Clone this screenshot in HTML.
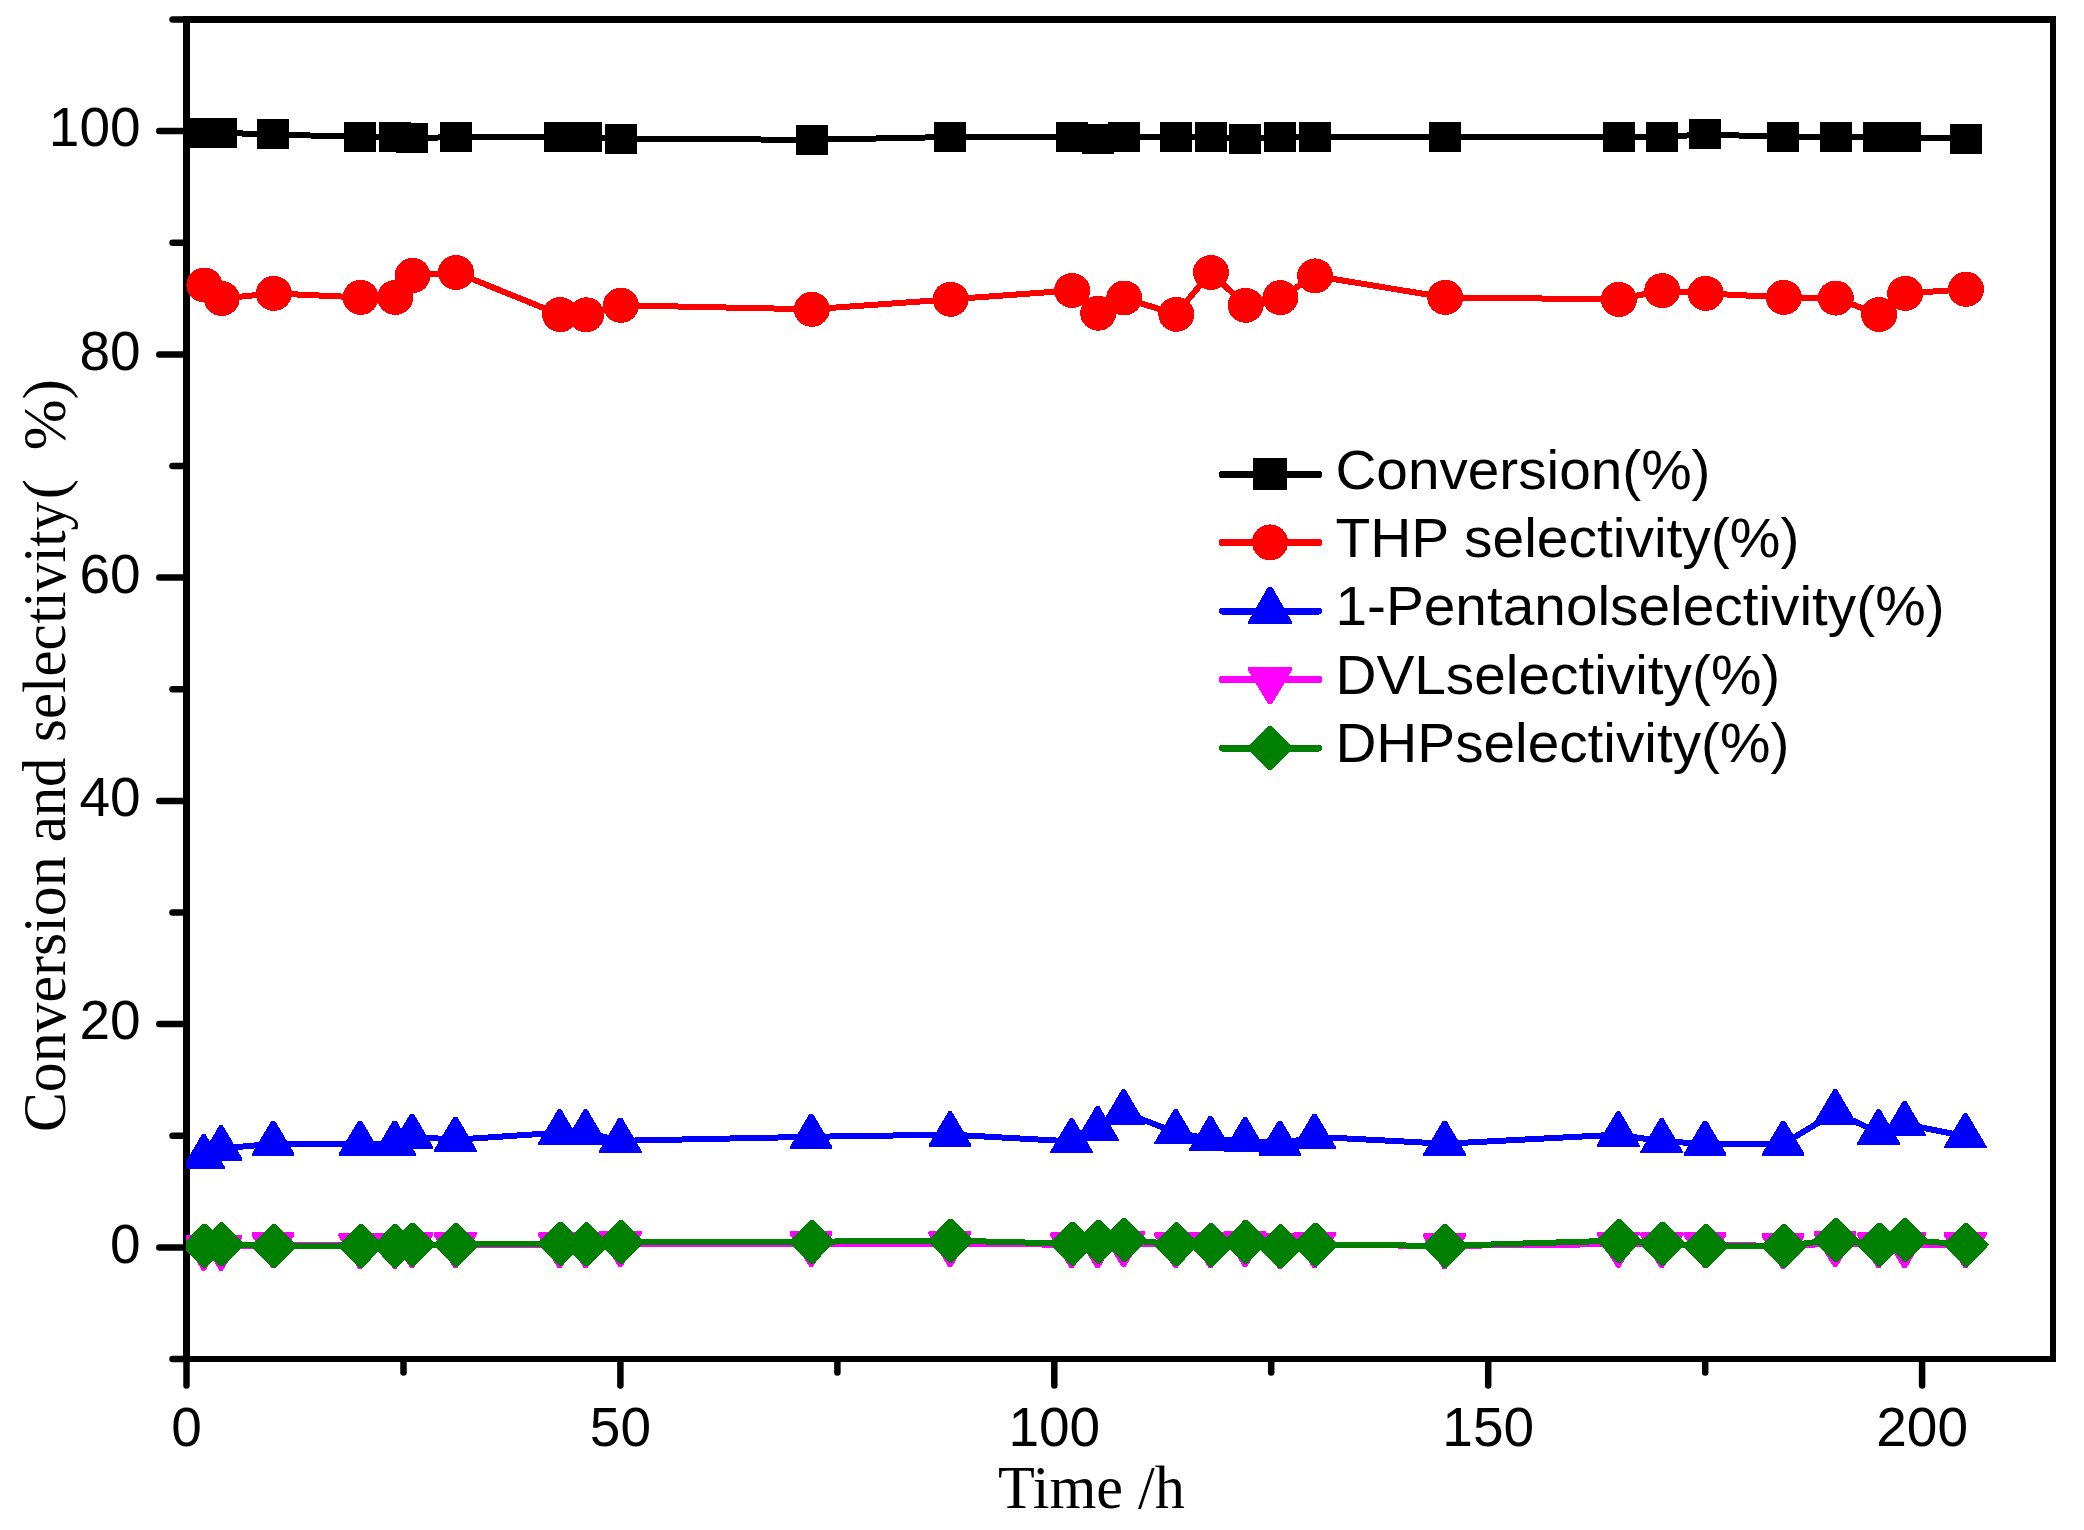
<!DOCTYPE html>
<html lang="en"><head><meta charset="utf-8"><title>Conversion and selectivity vs time</title>
<style>html,body{margin:0;padding:0;background:#fff}body{width:2084px;height:1530px;overflow:hidden}svg{display:block}.t{font-family:"Liberation Sans",Arial,sans-serif;font-size:55px;fill:#000}.s{font-family:"Liberation Serif","Times New Roman",serif;font-size:61px;fill:#000}</style></head><body>
<svg width="2084" height="1530" viewBox="0 0 2084 1530">
<rect x="0" y="0" width="2084" height="1530" fill="#fff"/>
<defs><clipPath id="cp"><rect x="186" y="23" width="1864" height="1333"/></clipPath></defs>
<g id="axes" fill="#000" shape-rendering="crispEdges">
<rect x="183" y="16" width="7" height="1346"/>
<rect x="183" y="16" width="1873" height="7"/>
<rect x="2050" y="16" width="6" height="1346"/>
<rect x="183" y="1356" width="1873" height="6"/>
</g>
<g id="ticks" stroke="#000" stroke-width="6.5" stroke-linecap="round" fill="none">
<line x1="172.5" y1="1359.0" x2="186" y2="1359.0"/>
<line x1="159.3" y1="1247.4" x2="186" y2="1247.4"/>
<line x1="172.5" y1="1135.8" x2="186" y2="1135.8"/>
<line x1="159.3" y1="1024.1" x2="186" y2="1024.1"/>
<line x1="172.5" y1="912.5" x2="186" y2="912.5"/>
<line x1="159.3" y1="800.9" x2="186" y2="800.9"/>
<line x1="172.5" y1="689.2" x2="186" y2="689.2"/>
<line x1="159.3" y1="577.6" x2="186" y2="577.6"/>
<line x1="172.5" y1="466.0" x2="186" y2="466.0"/>
<line x1="159.3" y1="354.4" x2="186" y2="354.4"/>
<line x1="172.5" y1="242.8" x2="186" y2="242.8"/>
<line x1="159.3" y1="131.1" x2="186" y2="131.1"/>
<line x1="172.5" y1="19.5" x2="186" y2="19.5"/>
<line x1="186.5" y1="1360" x2="186.5" y2="1385.5"/>
<line x1="403.5" y1="1360" x2="403.5" y2="1372.4"/>
<line x1="620.4" y1="1360" x2="620.4" y2="1385.5"/>
<line x1="837.4" y1="1360" x2="837.4" y2="1372.4"/>
<line x1="1054.3" y1="1360" x2="1054.3" y2="1385.5"/>
<line x1="1271.2" y1="1360" x2="1271.2" y2="1372.4"/>
<line x1="1488.2" y1="1360" x2="1488.2" y2="1385.5"/>
<line x1="1705.2" y1="1360" x2="1705.2" y2="1372.4"/>
<line x1="1922.1" y1="1360" x2="1922.1" y2="1385.5"/>
</g>
<g id="ticklabels" class="t">
<text x="140.6" y="1262.6" text-anchor="end">0</text>
<text x="140.6" y="1039.3" text-anchor="end">20</text>
<text x="140.6" y="816.1" text-anchor="end">40</text>
<text x="140.6" y="592.8" text-anchor="end">60</text>
<text x="140.6" y="369.6" text-anchor="end">80</text>
<text x="140.6" y="146.3" text-anchor="end">100</text>
<text x="186.5" y="1445.6" text-anchor="middle">0</text>
<text x="620.4" y="1445.6" text-anchor="middle">50</text>
<text x="1054.3" y="1445.6" text-anchor="middle">100</text>
<text x="1488.2" y="1445.6" text-anchor="middle">150</text>
<text x="1922.1" y="1445.6" text-anchor="middle">200</text>
</g>
<text class="s" x="998" y="1507.8" textLength="187" lengthAdjust="spacingAndGlyphs">Time /h</text>
<g transform="translate(65,1132) rotate(-90)">
<text class="s" y="0" xml:space="preserve"><tspan x="0" textLength="275.6" lengthAdjust="spacingAndGlyphs">Conversion</tspan><tspan> </tspan><tspan x="289.7" textLength="84.8" lengthAdjust="spacingAndGlyphs">and</tspan><tspan> </tspan><tspan x="390.1" textLength="117.6" lengthAdjust="spacingAndGlyphs">selec</tspan><tspan x="508.5" textLength="121.8" lengthAdjust="spacingAndGlyphs">tivity</tspan></text>
<text class="s" x="632.8" y="0">(</text>
<text class="s" x="681.7" y="0">%</text>
<text class="s" x="732.6" y="0">)</text>
</g>
<g id="data" clip-path="url(#cp)" shape-rendering="crispEdges">
<polyline points="204.1,132.9 221.4,132.9 273.5,134.4 360.3,137.0 395.0,137.0 412.3,137.8 455.7,137.3 559.9,137.3 585.9,137.0 620.6,138.7 811.5,139.8 950.4,137.0 1071.9,137.0 1097.9,138.7 1123.9,137.5 1176.0,137.0 1210.7,137.3 1245.4,139.0 1280.1,137.0 1314.8,137.3 1445.0,137.0 1618.6,137.0 1662.0,137.0 1705.4,134.4 1783.5,137.0 1835.5,137.5 1878.9,137.0 1904.9,137.5 1965.7,138.7" fill="none" stroke="#000" stroke-width="6" stroke-linejoin="round"/>
<g fill="#000" shape-rendering="crispEdges">
<rect x="188" y="118" width="32" height="30"/>
<rect x="205" y="118" width="32" height="30"/>
<rect x="257" y="119" width="32" height="30"/>
<rect x="344" y="122" width="32" height="30"/>
<rect x="379" y="122" width="32" height="30"/>
<rect x="396" y="123" width="32" height="30"/>
<rect x="440" y="122" width="32" height="30"/>
<rect x="544" y="122" width="32" height="30"/>
<rect x="570" y="122" width="32" height="30"/>
<rect x="605" y="124" width="32" height="30"/>
<rect x="796" y="125" width="32" height="30"/>
<rect x="934" y="122" width="32" height="30"/>
<rect x="1056" y="122" width="32" height="30"/>
<rect x="1082" y="124" width="32" height="30"/>
<rect x="1108" y="122" width="32" height="30"/>
<rect x="1160" y="122" width="32" height="30"/>
<rect x="1195" y="122" width="32" height="30"/>
<rect x="1229" y="124" width="32" height="30"/>
<rect x="1264" y="122" width="32" height="30"/>
<rect x="1299" y="122" width="32" height="30"/>
<rect x="1429" y="122" width="32" height="30"/>
<rect x="1603" y="122" width="32" height="30"/>
<rect x="1646" y="122" width="32" height="30"/>
<rect x="1689" y="119" width="32" height="30"/>
<rect x="1767" y="122" width="32" height="30"/>
<rect x="1820" y="122" width="32" height="30"/>
<rect x="1863" y="122" width="32" height="30"/>
<rect x="1889" y="122" width="32" height="30"/>
<rect x="1950" y="124" width="32" height="30"/>
</g>
<polyline points="204.1,285.0 221.4,298.5 273.5,293.4 360.3,297.4 395.0,297.4 412.3,275.5 455.7,272.4 559.9,314.6 585.9,314.8 620.6,305.3 811.5,309.3 950.4,299.3 1071.9,290.5 1097.9,313.2 1123.9,298.0 1176.0,314.3 1210.7,272.4 1245.4,305.3 1280.1,297.6 1314.8,275.9 1445.0,297.4 1618.6,299.4 1662.0,290.6 1705.4,293.4 1783.5,297.4 1835.5,298.1 1878.9,314.5 1904.9,293.4 1965.7,289.3" fill="none" stroke="#f00" stroke-width="6" stroke-linejoin="round"/>
<g fill="#f00">
<ellipse cx="204.4" cy="285.0" rx="18" ry="17.5"/>
<ellipse cx="221.7" cy="298.5" rx="18" ry="17.5"/>
<ellipse cx="273.8" cy="293.4" rx="18" ry="17.5"/>
<ellipse cx="360.6" cy="297.4" rx="18" ry="17.5"/>
<ellipse cx="395.3" cy="297.4" rx="18" ry="17.5"/>
<ellipse cx="412.6" cy="275.5" rx="18" ry="17.5"/>
<ellipse cx="456.0" cy="272.4" rx="18" ry="17.5"/>
<ellipse cx="560.2" cy="314.6" rx="18" ry="17.5"/>
<ellipse cx="586.2" cy="314.8" rx="18" ry="17.5"/>
<ellipse cx="620.9" cy="305.3" rx="18" ry="17.5"/>
<ellipse cx="811.8" cy="309.3" rx="18" ry="17.5"/>
<ellipse cx="950.7" cy="299.3" rx="18" ry="17.5"/>
<ellipse cx="1072.2" cy="290.5" rx="18" ry="17.5"/>
<ellipse cx="1098.2" cy="313.2" rx="18" ry="17.5"/>
<ellipse cx="1124.2" cy="298.0" rx="18" ry="17.5"/>
<ellipse cx="1176.3" cy="314.3" rx="18" ry="17.5"/>
<ellipse cx="1211.0" cy="272.4" rx="18" ry="17.5"/>
<ellipse cx="1245.7" cy="305.3" rx="18" ry="17.5"/>
<ellipse cx="1280.4" cy="297.6" rx="18" ry="17.5"/>
<ellipse cx="1315.1" cy="275.9" rx="18" ry="17.5"/>
<ellipse cx="1445.3" cy="297.4" rx="18" ry="17.5"/>
<ellipse cx="1618.9" cy="299.4" rx="18" ry="17.5"/>
<ellipse cx="1662.3" cy="290.6" rx="18" ry="17.5"/>
<ellipse cx="1705.7" cy="293.4" rx="18" ry="17.5"/>
<ellipse cx="1783.8" cy="297.4" rx="18" ry="17.5"/>
<ellipse cx="1835.8" cy="298.1" rx="18" ry="17.5"/>
<ellipse cx="1879.2" cy="314.5" rx="18" ry="17.5"/>
<ellipse cx="1905.2" cy="293.4" rx="18" ry="17.5"/>
<ellipse cx="1966.0" cy="289.3" rx="18" ry="17.5"/>
</g>
<polyline points="204.1,1157.3 221.4,1148.5 273.5,1143.7 360.3,1143.7 395.0,1143.7 412.3,1136.8 455.7,1139.7 559.9,1132.6 585.9,1132.6 620.6,1140.8 811.5,1136.8 950.4,1134.6 1071.9,1141.4 1097.9,1129.3 1123.9,1112.5 1176.0,1132.4 1210.7,1139.2 1245.4,1140.3 1280.1,1143.7 1314.8,1136.8 1445.0,1143.7 1618.6,1134.6 1662.0,1141.4 1705.4,1143.7 1783.5,1143.7 1835.5,1112.5 1878.9,1132.6 1904.9,1124.2 1965.7,1136.4" fill="none" stroke="#00f" stroke-width="6" stroke-linejoin="round"/>
<g fill="#00f">
<polygon points="202.1,1134.1 205.5,1134.1 225.0,1167.3 225.0,1169.3 182.5,1169.3 182.5,1167.3"/>
<polygon points="219.4,1125.3 222.8,1125.3 242.3,1158.5 242.3,1160.5 199.8,1160.5 199.8,1158.5"/>
<polygon points="271.5,1120.5 274.9,1120.5 294.4,1153.7 294.4,1155.7 251.9,1155.7 251.9,1153.7"/>
<polygon points="358.3,1120.5 361.7,1120.5 381.2,1153.7 381.2,1155.7 338.7,1155.7 338.7,1153.7"/>
<polygon points="393.0,1120.5 396.4,1120.5 415.9,1153.7 415.9,1155.7 373.4,1155.7 373.4,1153.7"/>
<polygon points="410.3,1113.6 413.7,1113.6 433.2,1146.8 433.2,1148.8 390.7,1148.8 390.7,1146.8"/>
<polygon points="453.7,1116.5 457.1,1116.5 476.6,1149.7 476.6,1151.7 434.1,1151.7 434.1,1149.7"/>
<polygon points="557.9,1109.4 561.3,1109.4 580.8,1142.6 580.8,1144.6 538.3,1144.6 538.3,1142.6"/>
<polygon points="583.9,1109.4 587.3,1109.4 606.8,1142.6 606.8,1144.6 564.3,1144.6 564.3,1142.6"/>
<polygon points="618.6,1117.6 622.0,1117.6 641.5,1150.8 641.5,1152.8 599.0,1152.8 599.0,1150.8"/>
<polygon points="809.5,1113.6 812.9,1113.6 832.4,1146.8 832.4,1148.8 789.9,1148.8 789.9,1146.8"/>
<polygon points="948.4,1111.4 951.8,1111.4 971.3,1144.6 971.3,1146.6 928.8,1146.6 928.8,1144.6"/>
<polygon points="1069.9,1118.2 1073.3,1118.2 1092.8,1151.4 1092.8,1153.4 1050.3,1153.4 1050.3,1151.4"/>
<polygon points="1095.9,1106.1 1099.3,1106.1 1118.8,1139.3 1118.8,1141.3 1076.3,1141.3 1076.3,1139.3"/>
<polygon points="1121.9,1089.3 1125.3,1089.3 1144.8,1122.5 1144.8,1124.5 1102.3,1124.5 1102.3,1122.5"/>
<polygon points="1174.0,1109.2 1177.4,1109.2 1196.9,1142.4 1196.9,1144.4 1154.4,1144.4 1154.4,1142.4"/>
<polygon points="1208.7,1116.0 1212.1,1116.0 1231.6,1149.2 1231.6,1151.2 1189.1,1151.2 1189.1,1149.2"/>
<polygon points="1243.4,1117.1 1246.8,1117.1 1266.3,1150.3 1266.3,1152.3 1223.8,1152.3 1223.8,1150.3"/>
<polygon points="1278.1,1120.5 1281.5,1120.5 1301.0,1153.7 1301.0,1155.7 1258.5,1155.7 1258.5,1153.7"/>
<polygon points="1312.8,1113.6 1316.2,1113.6 1335.7,1146.8 1335.7,1148.8 1293.2,1148.8 1293.2,1146.8"/>
<polygon points="1443.0,1120.5 1446.4,1120.5 1465.9,1153.7 1465.9,1155.7 1423.4,1155.7 1423.4,1153.7"/>
<polygon points="1616.6,1111.4 1620.0,1111.4 1639.5,1144.6 1639.5,1146.6 1597.0,1146.6 1597.0,1144.6"/>
<polygon points="1660.0,1118.2 1663.4,1118.2 1682.9,1151.4 1682.9,1153.4 1640.4,1153.4 1640.4,1151.4"/>
<polygon points="1703.4,1120.5 1706.8,1120.5 1726.3,1153.7 1726.3,1155.7 1683.8,1155.7 1683.8,1153.7"/>
<polygon points="1781.5,1120.5 1784.9,1120.5 1804.4,1153.7 1804.4,1155.7 1761.9,1155.7 1761.9,1153.7"/>
<polygon points="1833.5,1089.3 1836.9,1089.3 1856.4,1122.5 1856.4,1124.5 1813.9,1124.5 1813.9,1122.5"/>
<polygon points="1876.9,1109.4 1880.3,1109.4 1899.8,1142.6 1899.8,1144.6 1857.3,1144.6 1857.3,1142.6"/>
<polygon points="1902.9,1101.0 1906.3,1101.0 1925.8,1134.2 1925.8,1136.2 1883.3,1136.2 1883.3,1134.2"/>
<polygon points="1963.7,1113.2 1967.1,1113.2 1986.6,1146.4 1986.6,1148.4 1944.1,1148.4 1944.1,1146.4"/>
</g>
<polyline points="204.1,1247.0 221.4,1247.0 273.5,1244.8 360.3,1245.4 395.0,1245.4 412.3,1244.8 455.7,1244.8 559.9,1244.8 585.9,1244.8 620.6,1243.6 811.5,1243.6 950.4,1243.6 1071.9,1244.8 1097.9,1244.8 1123.9,1243.6 1176.0,1244.8 1210.7,1244.8 1245.4,1243.6 1280.1,1245.2 1314.8,1244.8 1445.0,1245.9 1618.6,1244.1 1662.0,1244.8 1705.4,1244.8 1783.5,1245.9 1835.5,1243.6 1878.9,1244.8 1904.9,1244.8 1965.7,1244.8" fill="none" stroke="#f0f" stroke-width="6" stroke-linejoin="round"/>
<g fill="#f0f">
<polygon points="183.1,1234.5 225.0,1234.5 225.0,1237.5 205.5,1270.5 202.1,1270.5 182.1,1237.5 182.1,1235.5"/>
<polygon points="200.4,1234.5 242.3,1234.5 242.3,1237.5 222.8,1270.5 219.4,1270.5 199.4,1237.5 199.4,1235.5"/>
<polygon points="252.5,1232.3 294.4,1232.3 294.4,1235.3 274.9,1268.3 271.5,1268.3 251.5,1235.3 251.5,1233.3"/>
<polygon points="339.3,1232.9 381.2,1232.9 381.2,1235.9 361.7,1268.9 358.3,1268.9 338.3,1235.9 338.3,1233.9"/>
<polygon points="374.0,1232.9 415.9,1232.9 415.9,1235.9 396.4,1268.9 393.0,1268.9 373.0,1235.9 373.0,1233.9"/>
<polygon points="391.3,1232.3 433.2,1232.3 433.2,1235.3 413.7,1268.3 410.3,1268.3 390.3,1235.3 390.3,1233.3"/>
<polygon points="434.7,1232.3 476.6,1232.3 476.6,1235.3 457.1,1268.3 453.7,1268.3 433.7,1235.3 433.7,1233.3"/>
<polygon points="538.9,1232.3 580.8,1232.3 580.8,1235.3 561.3,1268.3 557.9,1268.3 537.9,1235.3 537.9,1233.3"/>
<polygon points="564.9,1232.3 606.8,1232.3 606.8,1235.3 587.3,1268.3 583.9,1268.3 563.9,1235.3 563.9,1233.3"/>
<polygon points="599.6,1231.1 641.5,1231.1 641.5,1234.1 622.0,1267.1 618.6,1267.1 598.6,1234.1 598.6,1232.1"/>
<polygon points="790.5,1231.1 832.4,1231.1 832.4,1234.1 812.9,1267.1 809.5,1267.1 789.5,1234.1 789.5,1232.1"/>
<polygon points="929.4,1231.1 971.3,1231.1 971.3,1234.1 951.8,1267.1 948.4,1267.1 928.4,1234.1 928.4,1232.1"/>
<polygon points="1050.9,1232.3 1092.8,1232.3 1092.8,1235.3 1073.3,1268.3 1069.9,1268.3 1049.9,1235.3 1049.9,1233.3"/>
<polygon points="1076.9,1232.3 1118.8,1232.3 1118.8,1235.3 1099.3,1268.3 1095.9,1268.3 1075.9,1235.3 1075.9,1233.3"/>
<polygon points="1102.9,1231.1 1144.8,1231.1 1144.8,1234.1 1125.3,1267.1 1121.9,1267.1 1101.9,1234.1 1101.9,1232.1"/>
<polygon points="1155.0,1232.3 1196.9,1232.3 1196.9,1235.3 1177.4,1268.3 1174.0,1268.3 1154.0,1235.3 1154.0,1233.3"/>
<polygon points="1189.7,1232.3 1231.6,1232.3 1231.6,1235.3 1212.1,1268.3 1208.7,1268.3 1188.7,1235.3 1188.7,1233.3"/>
<polygon points="1224.4,1231.1 1266.3,1231.1 1266.3,1234.1 1246.8,1267.1 1243.4,1267.1 1223.4,1234.1 1223.4,1232.1"/>
<polygon points="1259.1,1232.7 1301.0,1232.7 1301.0,1235.7 1281.5,1268.7 1278.1,1268.7 1258.1,1235.7 1258.1,1233.7"/>
<polygon points="1293.8,1232.3 1335.7,1232.3 1335.7,1235.3 1316.2,1268.3 1312.8,1268.3 1292.8,1235.3 1292.8,1233.3"/>
<polygon points="1424.0,1233.4 1465.9,1233.4 1465.9,1236.4 1446.4,1269.4 1443.0,1269.4 1423.0,1236.4 1423.0,1234.4"/>
<polygon points="1597.6,1231.6 1639.5,1231.6 1639.5,1234.6 1620.0,1267.6 1616.6,1267.6 1596.6,1234.6 1596.6,1232.6"/>
<polygon points="1641.0,1232.3 1682.9,1232.3 1682.9,1235.3 1663.4,1268.3 1660.0,1268.3 1640.0,1235.3 1640.0,1233.3"/>
<polygon points="1684.4,1232.3 1726.3,1232.3 1726.3,1235.3 1706.8,1268.3 1703.4,1268.3 1683.4,1235.3 1683.4,1233.3"/>
<polygon points="1762.5,1233.4 1804.4,1233.4 1804.4,1236.4 1784.9,1269.4 1781.5,1269.4 1761.5,1236.4 1761.5,1234.4"/>
<polygon points="1814.5,1231.1 1856.4,1231.1 1856.4,1234.1 1836.9,1267.1 1833.5,1267.1 1813.5,1234.1 1813.5,1232.1"/>
<polygon points="1857.9,1232.3 1899.8,1232.3 1899.8,1235.3 1880.3,1268.3 1876.9,1268.3 1856.9,1235.3 1856.9,1233.3"/>
<polygon points="1883.9,1232.3 1925.8,1232.3 1925.8,1235.3 1906.3,1268.3 1902.9,1268.3 1882.9,1235.3 1882.9,1233.3"/>
<polygon points="1944.7,1232.3 1986.6,1232.3 1986.6,1235.3 1967.1,1268.3 1963.7,1268.3 1943.7,1235.3 1943.7,1233.3"/>
</g>
<polyline points="204.1,1245.9 221.4,1244.4 273.5,1245.9 360.3,1245.9 395.0,1246.0 412.3,1244.6 455.7,1244.6 559.9,1243.7 585.9,1244.4 620.6,1241.7 811.5,1241.7 950.4,1240.6 1071.9,1243.7 1097.9,1241.7 1123.9,1239.8 1176.0,1244.2 1210.7,1244.6 1245.4,1241.7 1280.1,1246.3 1314.8,1244.6 1445.0,1245.9 1618.6,1240.6 1662.0,1243.5 1705.4,1245.9 1783.5,1245.9 1835.5,1239.8 1878.9,1244.6 1904.9,1239.8 1965.7,1244.6" fill="none" stroke="#008000" stroke-width="6" stroke-linejoin="round"/>
<g fill="#008000">
<polygon points="203.0,1223.9 206.0,1223.9 227.3,1245.4 227.3,1246.4 206.0,1267.9 203.0,1267.9 181.7,1246.4 181.7,1245.4"/>
<polygon points="220.3,1222.4 223.3,1222.4 244.6,1243.9 244.6,1244.9 223.3,1266.4 220.3,1266.4 199.0,1244.9 199.0,1243.9"/>
<polygon points="272.4,1223.9 275.4,1223.9 296.7,1245.4 296.7,1246.4 275.4,1267.9 272.4,1267.9 251.1,1246.4 251.1,1245.4"/>
<polygon points="359.2,1223.9 362.2,1223.9 383.5,1245.4 383.5,1246.4 362.2,1267.9 359.2,1267.9 337.9,1246.4 337.9,1245.4"/>
<polygon points="393.9,1224.0 396.9,1224.0 418.2,1245.5 418.2,1246.5 396.9,1268.0 393.9,1268.0 372.6,1246.5 372.6,1245.5"/>
<polygon points="411.2,1222.6 414.2,1222.6 435.5,1244.1 435.5,1245.1 414.2,1266.6 411.2,1266.6 389.9,1245.1 389.9,1244.1"/>
<polygon points="454.6,1222.6 457.6,1222.6 478.9,1244.1 478.9,1245.1 457.6,1266.6 454.6,1266.6 433.3,1245.1 433.3,1244.1"/>
<polygon points="558.8,1221.7 561.8,1221.7 583.1,1243.2 583.1,1244.2 561.8,1265.7 558.8,1265.7 537.5,1244.2 537.5,1243.2"/>
<polygon points="584.8,1222.4 587.8,1222.4 609.1,1243.9 609.1,1244.9 587.8,1266.4 584.8,1266.4 563.5,1244.9 563.5,1243.9"/>
<polygon points="619.5,1219.7 622.5,1219.7 643.8,1241.2 643.8,1242.2 622.5,1263.7 619.5,1263.7 598.2,1242.2 598.2,1241.2"/>
<polygon points="810.4,1219.7 813.4,1219.7 834.7,1241.2 834.7,1242.2 813.4,1263.7 810.4,1263.7 789.1,1242.2 789.1,1241.2"/>
<polygon points="949.3,1218.6 952.3,1218.6 973.6,1240.1 973.6,1241.1 952.3,1262.6 949.3,1262.6 928.0,1241.1 928.0,1240.1"/>
<polygon points="1070.8,1221.7 1073.8,1221.7 1095.1,1243.2 1095.1,1244.2 1073.8,1265.7 1070.8,1265.7 1049.5,1244.2 1049.5,1243.2"/>
<polygon points="1096.8,1219.7 1099.8,1219.7 1121.1,1241.2 1121.1,1242.2 1099.8,1263.7 1096.8,1263.7 1075.5,1242.2 1075.5,1241.2"/>
<polygon points="1122.8,1217.8 1125.8,1217.8 1147.1,1239.3 1147.1,1240.3 1125.8,1261.8 1122.8,1261.8 1101.5,1240.3 1101.5,1239.3"/>
<polygon points="1174.9,1222.2 1177.9,1222.2 1199.2,1243.7 1199.2,1244.7 1177.9,1266.2 1174.9,1266.2 1153.6,1244.7 1153.6,1243.7"/>
<polygon points="1209.6,1222.6 1212.6,1222.6 1233.9,1244.1 1233.9,1245.1 1212.6,1266.6 1209.6,1266.6 1188.3,1245.1 1188.3,1244.1"/>
<polygon points="1244.3,1219.7 1247.3,1219.7 1268.6,1241.2 1268.6,1242.2 1247.3,1263.7 1244.3,1263.7 1223.0,1242.2 1223.0,1241.2"/>
<polygon points="1279.0,1224.3 1282.0,1224.3 1303.3,1245.8 1303.3,1246.8 1282.0,1268.3 1279.0,1268.3 1257.7,1246.8 1257.7,1245.8"/>
<polygon points="1313.7,1222.6 1316.7,1222.6 1338.0,1244.1 1338.0,1245.1 1316.7,1266.6 1313.7,1266.6 1292.4,1245.1 1292.4,1244.1"/>
<polygon points="1443.9,1223.9 1446.9,1223.9 1468.2,1245.4 1468.2,1246.4 1446.9,1267.9 1443.9,1267.9 1422.6,1246.4 1422.6,1245.4"/>
<polygon points="1617.5,1218.6 1620.5,1218.6 1641.8,1240.1 1641.8,1241.1 1620.5,1262.6 1617.5,1262.6 1596.2,1241.1 1596.2,1240.1"/>
<polygon points="1660.9,1221.5 1663.9,1221.5 1685.2,1243.0 1685.2,1244.0 1663.9,1265.5 1660.9,1265.5 1639.6,1244.0 1639.6,1243.0"/>
<polygon points="1704.3,1223.9 1707.3,1223.9 1728.6,1245.4 1728.6,1246.4 1707.3,1267.9 1704.3,1267.9 1683.0,1246.4 1683.0,1245.4"/>
<polygon points="1782.4,1223.9 1785.4,1223.9 1806.7,1245.4 1806.7,1246.4 1785.4,1267.9 1782.4,1267.9 1761.1,1246.4 1761.1,1245.4"/>
<polygon points="1834.4,1217.8 1837.4,1217.8 1858.7,1239.3 1858.7,1240.3 1837.4,1261.8 1834.4,1261.8 1813.1,1240.3 1813.1,1239.3"/>
<polygon points="1877.8,1222.6 1880.8,1222.6 1902.1,1244.1 1902.1,1245.1 1880.8,1266.6 1877.8,1266.6 1856.5,1245.1 1856.5,1244.1"/>
<polygon points="1903.8,1217.8 1906.8,1217.8 1928.1,1239.3 1928.1,1240.3 1906.8,1261.8 1903.8,1261.8 1882.5,1240.3 1882.5,1239.3"/>
<polygon points="1964.6,1222.6 1967.6,1222.6 1988.9,1244.1 1988.9,1245.1 1967.6,1266.6 1964.6,1266.6 1943.3,1245.1 1943.3,1244.1"/>
</g>
</g>
<g id="legend" shape-rendering="crispEdges">
<line x1="1222.3" y1="474.5" x2="1318.7" y2="474.5" stroke="#000" stroke-width="7" stroke-linecap="round"/>
<line x1="1222.3" y1="542.4" x2="1318.7" y2="542.4" stroke="#f00" stroke-width="7" stroke-linecap="round"/>
<line x1="1222.3" y1="611.0" x2="1318.7" y2="611.0" stroke="#00f" stroke-width="7" stroke-linecap="round"/>
<line x1="1222.3" y1="679.5" x2="1318.7" y2="679.5" stroke="#f0f" stroke-width="7" stroke-linecap="round"/>
<line x1="1222.3" y1="748.0" x2="1318.7" y2="748.0" stroke="#008000" stroke-width="7" stroke-linecap="round"/>
<rect x="1253" y="458" width="34" height="32" fill="#000" shape-rendering="crispEdges"/>
<circle cx="1270.0" cy="542.4" r="18" fill="#f00"/>
<polygon points="1247.9,623.8 1292.1,623.8 1292.1,621.8 1272.0,586.8 1268.0,586.8 1247.9,621.8" fill="#00f"/>
<polygon points="1248.5,667.0 1292.1,667.0 1292.1,670.0 1272.0,704.0 1268.0,704.0 1247.9,670.0 1247.9,668.0" fill="#f0f"/>
<polygon points="1247.2,747.5 1268.5,726.0 1271.5,726.0 1292.8,747.5 1292.8,748.5 1271.5,770.0 1268.5,770.0 1247.2,748.5" fill="#008000"/>
<g class="t">
<text x="1335.4" y="488.7" textLength="375.1" lengthAdjust="spacingAndGlyphs">Conversion(%)</text>
<text x="1335.4" y="556.6" textLength="464.0" lengthAdjust="spacingAndGlyphs">THP selectivity(%)</text>
<text x="1335.4" y="625.2" textLength="609.2" lengthAdjust="spacingAndGlyphs">1-Pentanolselectivity(%)</text>
<text x="1335.4" y="693.7" textLength="444.9" lengthAdjust="spacingAndGlyphs">DVLselectivity(%)</text>
<text x="1335.4" y="762.2" textLength="453.9" lengthAdjust="spacingAndGlyphs">DHPselectivity(%)</text>
</g></g>
</svg></body></html>
